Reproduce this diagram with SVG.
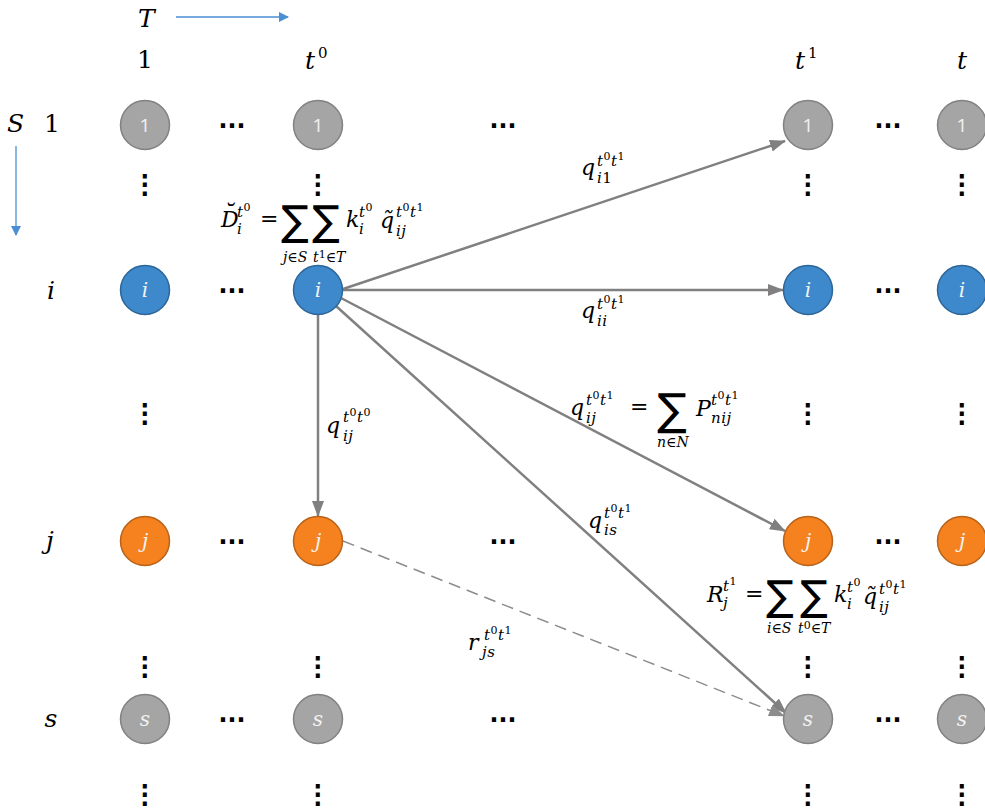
<svg xmlns="http://www.w3.org/2000/svg" width="985" height="811" viewBox="0 0 985 811">
  <style>
    .lbl { font-family: "DejaVu Serif", "Liberation Serif", serif; font-style: italic; font-size: 25px; fill: #000; }
    .up { font-style: normal; }
    .m { font-family: "DejaVu Serif", "Liberation Serif", serif; font-style: italic; font-size: 22px; fill: #000; }
    .s { font-family: "DejaVu Serif", "Liberation Serif", serif; font-style: italic; font-size: 15px; fill: #000; letter-spacing: 0.5px; }
    .u { font-family: "DejaVu Serif", "Liberation Serif", serif; font-style: italic; font-size: 14px; fill: #000; }
    .ss { font-style: normal; font-size: 11px; }
    .sig { font-family: "DejaVu Sans", sans-serif; font-size: 41px; fill: #000; }
    .dots { font-family: "DejaVu Sans", sans-serif; font-size: 27px; fill: #000; stroke: #000; stroke-width: 1.4; text-anchor: middle; }
    .vd { font-family: "DejaVu Sans", sans-serif; font-size: 26px; fill: #000; stroke: #000; stroke-width: 1.3; text-anchor: middle; }
    .node circle { stroke-width: 1.5; }
    .gray circle { fill: #a5a5a5; stroke: #828282; }
    .blue circle { fill: #3d89cc; stroke: #2d6699; }
    .orange circle { fill: #f5821f; stroke: #b8621a; }
    .node text { font-family: "DejaVu Serif", serif; font-style: italic; font-size: 20px; fill: #f2f2f2; text-anchor: middle; }
    .node text.num { font-family: "Open Sans", "Liberation Sans", sans-serif; font-style: normal; font-size: 19px; }
    .edge { stroke: #808080; stroke-width: 2.5; fill: none; }
    .dash { stroke: #8c8c8c; stroke-width: 1.5; stroke-dasharray: 12 7; fill: none; }
    .axis { stroke: #4a8fd4; stroke-width: 1.3; fill: none; }
  </style>
  <defs>
    <marker id="arrow" viewBox="0 0 16 12" refX="15" refY="6" markerWidth="6.4" markerHeight="4.8" markerUnits="strokeWidth" orient="auto">
      <path d="M0,0 L16,6 L0,12 z" fill="#808080"/>
    </marker>
    <marker id="arrowDash" viewBox="0 0 16 12" refX="15" refY="6" markerWidth="10.7" markerHeight="8" markerUnits="strokeWidth" orient="auto">
      <path d="M0,0 L16,6 L0,12 z" fill="#8c8c8c"/>
    </marker>
    <marker id="arrowAxis" viewBox="0 0 10 10" refX="9" refY="5" markerWidth="8" markerHeight="8" markerUnits="strokeWidth" orient="auto">
      <path d="M0,0 L10,5 L0,10 z" fill="#4a8fd4"/>
    </marker>
  </defs>

  <!-- axes -->
  <g id="axes">
    <text class="lbl" x="138" y="27">T</text>
    <line class="axis" x1="176" y1="17" x2="288" y2="17" marker-end="url(#arrowAxis)"/>
    <text class="lbl" x="7" y="132">S</text>
    <line class="axis" x1="16" y1="146" x2="16" y2="235" marker-end="url(#arrowAxis)"/>
  </g>

  <!-- column headers -->
  <g id="col-labels">
    <text class="lbl up" x="145" y="68" text-anchor="middle">1</text>
    <text class="lbl" x="305" y="69">t</text><text class="lbl up" x="318" y="58" style="font-size:15px">0</text>
    <text class="lbl" x="795" y="69">t</text><text class="lbl up" x="808" y="58" style="font-size:15px">1</text>
    <text class="lbl" x="962" y="69" text-anchor="middle">t</text>
  </g>

  <!-- row headers -->
  <g id="row-labels">
    <text class="lbl up" x="52" y="132" text-anchor="middle">1</text>
    <text class="lbl" x="51" y="299" text-anchor="middle">i</text>
    <text class="lbl" x="50" y="549" text-anchor="middle">j</text>
    <text class="lbl" x="51" y="727" text-anchor="middle">s</text>
  </g>

  <!-- ellipses -->
  <g id="ellipses">
    <text class="dots" x="232" y="134">⋯</text>
    <text class="dots" x="503" y="134">⋯</text>
    <text class="dots" x="888" y="134">⋯</text>
    <text class="dots" x="232" y="299">⋯</text>
    <text class="dots" x="888" y="299">⋯</text>
    <text class="dots" x="232" y="550">⋯</text>
    <text class="dots" x="503" y="550">⋯</text>
    <text class="dots" x="888" y="550">⋯</text>
    <text class="dots" x="232" y="728">⋯</text>
    <text class="dots" x="503" y="728">⋯</text>
    <text class="dots" x="888" y="728">⋯</text>

    <text class="vd" x="145" y="193">⋮</text>
    <text class="vd" x="318" y="193">⋮</text>
    <text class="vd" x="808" y="193">⋮</text>
    <text class="vd" x="962" y="193">⋮</text>
    <text class="vd" x="145" y="422">⋮</text>
    <text class="vd" x="808" y="422">⋮</text>
    <text class="vd" x="962" y="422">⋮</text>
    <text class="vd" x="145" y="675">⋮</text>
    <text class="vd" x="318" y="675">⋮</text>
    <text class="vd" x="808" y="675">⋮</text>
    <text class="vd" x="962" y="675">⋮</text>
    <text class="vd" x="145" y="803">⋮</text>
    <text class="vd" x="318" y="803">⋮</text>
    <text class="vd" x="808" y="803">⋮</text>
    <text class="vd" x="962" y="803">⋮</text>
  </g>

  <!-- connectors -->
  <g id="connectors">
    <line class="edge" x1="343" y1="289" x2="785" y2="141" marker-end="url(#arrow)"/>
    <line class="edge" x1="343" y1="290" x2="783" y2="290" marker-end="url(#arrow)"/>
    <line class="edge" x1="341" y1="298" x2="785" y2="531" marker-end="url(#arrow)"/>
    <line class="edge" x1="336" y1="306" x2="786" y2="713" marker-end="url(#arrow)"/>
    <line class="edge" x1="318" y1="315" x2="318" y2="516" marker-end="url(#arrow)"/>
    <line class="dash" x1="343" y1="541" x2="784" y2="716" marker-end="url(#arrowDash)"/>
  </g>

  <!-- nodes -->
  <g id="n-1-1" class="node gray"><circle cx="145" cy="125" r="24.5"/><text class="num" x="145" y="132">1</text></g>
  <g id="n-1-t0" class="node gray"><circle cx="318" cy="125" r="24.5"/><text class="num" x="318" y="132">1</text></g>
  <g id="n-1-t1" class="node gray"><circle cx="808" cy="125" r="24.5"/><text class="num" x="808" y="132">1</text></g>
  <g id="n-1-t" class="node gray"><circle cx="962" cy="125" r="24.5"/><text class="num" x="962" y="132">1</text></g>

  <g id="n-i-1" class="node blue"><circle cx="145" cy="290" r="24.5"/><text x="145" y="297">i</text></g>
  <g id="n-i-t0" class="node blue"><circle cx="318" cy="290" r="24.5"/><text x="318" y="297">i</text></g>
  <g id="n-i-t1" class="node blue"><circle cx="808" cy="290" r="24.5"/><text x="808" y="297">i</text></g>
  <g id="n-i-t" class="node blue"><circle cx="962" cy="290" r="24.5"/><text x="962" y="297">i</text></g>

  <g id="n-j-1" class="node orange"><circle cx="145" cy="541" r="24.5"/><text x="145" y="548">j</text></g>
  <g id="n-j-t0" class="node orange"><circle cx="318" cy="541" r="24.5"/><text x="318" y="548">j</text></g>
  <g id="n-j-t1" class="node orange"><circle cx="808" cy="541" r="24.5"/><text x="808" y="548">j</text></g>
  <g id="n-j-t" class="node orange"><circle cx="962" cy="541" r="24.5"/><text x="962" y="548">j</text></g>

  <g id="n-s-1" class="node gray"><circle cx="145" cy="719" r="24.5"/><text x="145" y="726">s</text></g>
  <g id="n-s-t0" class="node gray"><circle cx="318" cy="719" r="24.5"/><text x="318" y="726">s</text></g>
  <g id="n-s-t1" class="node gray"><circle cx="808" cy="719" r="24.5"/><text x="808" y="726">s</text></g>
  <g id="n-s-t" class="node gray"><circle cx="962" cy="719" r="24.5"/><text x="962" y="726">s</text></g>

  <!-- edge labels -->
  <g id="labels">
    <!-- q_i1 -->
    <text class="m" x="581" y="175">q</text>
    <text class="s" x="597" y="166">t<tspan class="ss" dy="-6">0</tspan><tspan dy="6">t</tspan><tspan class="ss" dy="-6">1</tspan></text>
    <text class="s" x="597" y="183">i<tspan class="up">1</tspan></text>

    <!-- q_ii -->
    <text class="m" x="581" y="318">q</text>
    <text class="s" x="597" y="309">t<tspan class="ss" dy="-6">0</tspan><tspan dy="6">t</tspan><tspan class="ss" dy="-6">1</tspan></text>
    <text class="s" x="597" y="326">ii</text>

    <!-- q_ij t0t0 -->
    <text class="m" x="326" y="433">q</text>
    <text class="s" x="343" y="422">t<tspan class="ss" dy="-6">0</tspan><tspan dy="6">t</tspan><tspan class="ss" dy="-6">0</tspan></text>
    <text class="s" x="343" y="441">ij</text>

    <!-- q_ij t0t1 = sum P -->
    <text class="m" x="570" y="415">q</text>
    <text class="s" x="586" y="405">t<tspan class="ss" dy="-6">0</tspan><tspan dy="6">t</tspan><tspan class="ss" dy="-6">1</tspan></text>
    <text class="s" x="586" y="423">ij</text>
    <text class="m up" x="630" y="414">=</text>
    <text class="sig" x="657" y="425" style="font-size:44px">∑</text>
    <text class="u" x="657" y="447">n<tspan class="up">∈</tspan>N</text>
    <text class="m" x="696" y="416">P</text>
    <text class="s" x="711" y="405">t<tspan class="ss" dy="-6">0</tspan><tspan dy="6">t</tspan><tspan class="ss" dy="-6">1</tspan></text>
    <text class="s" x="711" y="423">nij</text>

    <!-- q_is -->
    <text class="m" x="588" y="528">q</text>
    <text class="s" x="604" y="518">t<tspan class="ss" dy="-6">0</tspan><tspan dy="6">t</tspan><tspan class="ss" dy="-6">1</tspan></text>
    <text class="s" x="604" y="535">is</text>

    <!-- r_js -->
    <text class="m" x="468" y="650">r</text>
    <text class="s" x="484" y="640">t<tspan class="ss" dy="-6">0</tspan><tspan dy="6">t</tspan><tspan class="ss" dy="-6">1</tspan></text>
    <text class="s" x="482" y="657">js</text>

    <!-- D_i formula -->
    <text class="m" x="221" y="227">D</text>
    <text class="m up" x="223" y="222" style="font-size:24px">˘</text>
    <text class="s" x="237" y="217">t<tspan class="ss" dy="-6">0</tspan></text>
    <text class="s" x="237" y="234">i</text>
    <text class="m up" x="260" y="226">=</text>
    <text class="sig" x="281" y="235">∑</text>
    <text class="sig" x="312" y="235">∑</text>
    <text class="u" x="283" y="262">j<tspan class="up">∈</tspan>S</text>
    <text class="u" x="313" y="262">t<tspan class="ss" dy="-4">1</tspan><tspan class="up" dy="4">∈</tspan>T</text>
    <text class="m" x="346" y="227">k</text>
    <text class="s" x="359" y="217">t<tspan class="ss" dy="-6">0</tspan></text>
    <text class="s" x="359" y="234">i</text>
    <text class="m" x="380" y="228">q̃</text>
    <text class="s" x="396" y="217">t<tspan class="ss" dy="-6">0</tspan><tspan dy="6">t</tspan><tspan class="ss" dy="-6">1</tspan></text>
    <text class="s" x="396" y="236">ij</text>

    <!-- R_j formula -->
    <text class="m" x="707" y="602">R</text>
    <text class="s" x="723" y="591">t<tspan class="ss" dy="-6">1</tspan></text>
    <text class="s" x="723" y="608">j</text>
    <text class="m up" x="745" y="601">=</text>
    <text class="sig" x="766" y="610">∑</text>
    <text class="sig" x="800" y="610">∑</text>
    <text class="u" x="767" y="633">i<tspan class="up">∈</tspan>S</text>
    <text class="u" x="798" y="633">t<tspan class="ss" dy="-4">0</tspan><tspan class="up" dy="4">∈</tspan>T</text>
    <text class="m" x="834" y="602">k</text>
    <text class="s" x="847" y="592">t<tspan class="ss" dy="-6">0</tspan></text>
    <text class="s" x="847" y="609">i</text>
    <text class="m" x="863" y="604">q̃</text>
    <text class="s" x="879" y="594">t<tspan class="ss" dy="-6">0</tspan><tspan dy="6">t</tspan><tspan class="ss" dy="-6">1</tspan></text>
    <text class="s" x="879" y="612">ij</text>
  </g>
</svg>
